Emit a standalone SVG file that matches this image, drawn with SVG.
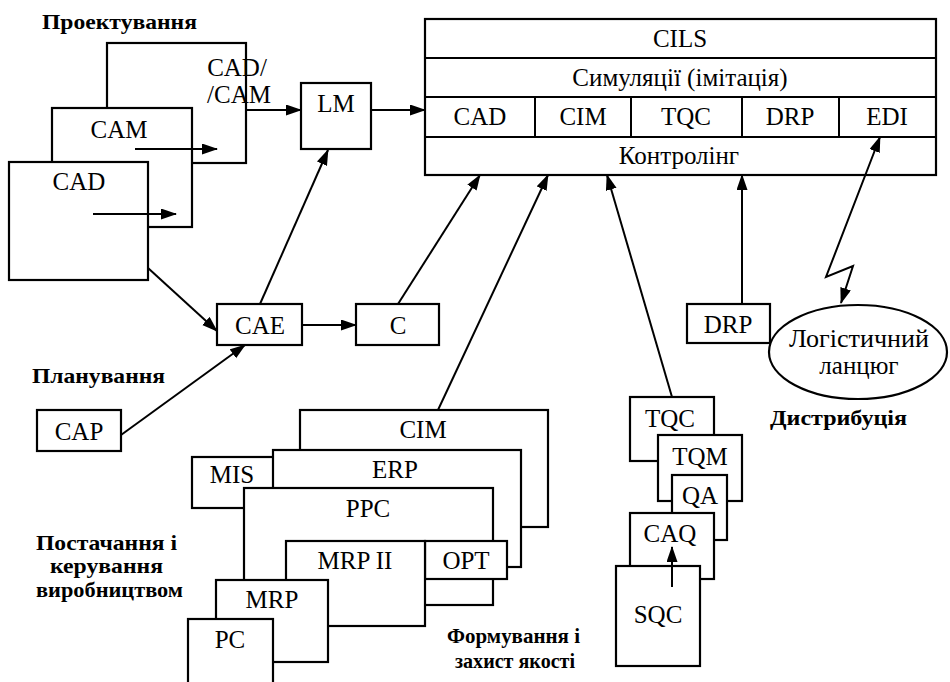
<svg xmlns="http://www.w3.org/2000/svg" width="950" height="682" viewBox="0 0 950 682">
  <defs>
    <style>
      .box { fill: #fff; stroke: #000; stroke-width: 2.2; }
      .t { font-family: "Liberation Serif", "Times New Roman", serif; font-size: 25px; fill: #000; text-anchor: middle; }
      .h { font-family: "Liberation Serif", "Times New Roman", serif; font-size: 22px; font-weight: bold; fill: #000; }
      .c { fill: none; stroke: #000; stroke-width: 2; }
      .a { marker-end: url(#arr); }
    </style>
    <marker id="arr" markerUnits="userSpaceOnUse" markerWidth="16" markerHeight="12" refX="15" refY="5.5" orient="auto-start-reverse">
      <path d="M0,0 L16,5.5 L0,11 z" fill="#000"/>
    </marker>
  </defs>
  <rect width="950" height="682" fill="#fff"/>

  <!-- section headings -->
  <g id="headings" font-family="Liberation Serif, serif">
    <text class="h" x="42" y="29" textLength="155" lengthAdjust="spacingAndGlyphs">Проектування</text>
    <text class="h" x="32" y="383" textLength="133" lengthAdjust="spacingAndGlyphs">Планування</text>
    <text class="h" x="36" y="550" textLength="141" lengthAdjust="spacingAndGlyphs">Постачання і</text>
    <text class="h" x="50" y="573" textLength="113" lengthAdjust="spacingAndGlyphs">керування</text>
    <text class="h" x="36" y="597" textLength="147" lengthAdjust="spacingAndGlyphs">виробництвом</text>
    <text class="h" x="447" y="643" textLength="133" lengthAdjust="spacingAndGlyphs">Формування і</text>
    <text class="h" x="455" y="668" textLength="120" lengthAdjust="spacingAndGlyphs">захист якості</text>
    <text class="h" x="770" y="425" textLength="137" lengthAdjust="spacingAndGlyphs">Дистрибуція</text>
  </g>

  <!-- integrated logistics system -->
  <g id="cils" font-family="Liberation Serif, serif">
    <rect class="box" x="425" y="19" width="511" height="156"/>
    <line class="c" x1="425" y1="58" x2="936" y2="58"/>
    <line class="c" x1="425" y1="97" x2="936" y2="97"/>
    <line class="c" x1="425" y1="137" x2="936" y2="137"/>
    <line class="c" x1="535" y1="97" x2="535" y2="137"/>
    <line class="c" x1="631" y1="97" x2="631" y2="137"/>
    <line class="c" x1="742" y1="97" x2="742" y2="137"/>
    <line class="c" x1="839" y1="97" x2="839" y2="137"/>
    <text class="t" x="680" y="47">CILS</text>
    <text class="t" x="680" y="86">Симуляції (імітація)</text>
    <text class="t" x="480" y="125">CAD</text>
    <text class="t" x="583" y="125">CIM</text>
    <text class="t" x="686" y="125">TQC</text>
    <text class="t" x="790" y="125">DRP</text>
    <text class="t" x="887" y="125">EDI</text>
    <text class="t" x="679" y="164">Контролінг</text>
  </g>

  <!-- design stack -->
  <g id="cadcam">
    <rect class="box" x="107" y="43" width="139" height="120"/>
    <text class="t" x="237" y="76" text-anchor="end">CAD/</text>
    <text class="t" x="239" y="103" text-anchor="end">/CAM</text>
  </g>
  <g id="cam">
    <rect class="box" x="52" y="108" width="140" height="119"/>
    <text class="t" x="119" y="138">CAM</text>
  </g>
  <g id="cad">
    <rect class="box" x="9" y="162" width="139" height="118"/>
    <text class="t" x="79" y="190">CAD</text>
  </g>
  <g id="lm">
    <rect class="box" x="301" y="83" width="70" height="66"/>
    <text class="t" x="336" y="112">LM</text>
  </g>
  <g id="cae">
    <rect class="box" x="217" y="304" width="85" height="41"/>
    <text class="t" x="260" y="334">CAE</text>
  </g>
  <g id="c">
    <rect class="box" x="356" y="304" width="83" height="41"/>
    <text class="t" x="398" y="334">C</text>
  </g>
  <g id="cap">
    <rect class="box" x="37" y="410" width="84" height="41"/>
    <text class="t" x="79" y="440">CAP</text>
  </g>

  <!-- production planning stack -->
  <g id="cim">
    <rect class="box" x="300" y="410" width="248" height="117"/>
    <text class="t" x="423" y="438">CIM</text>
  </g>
  <g id="mis">
    <rect class="box" x="192" y="457" width="90" height="51"/>
    <text class="t" x="232" y="483">MIS</text>
  </g>
  <g id="erp">
    <rect class="box" x="273" y="450" width="248" height="117"/>
    <text class="t" x="395" y="478">ERP</text>
  </g>
  <g id="ppc">
    <rect class="box" x="244" y="488" width="249" height="117"/>
    <text class="t" x="368" y="517">PPC</text>
  </g>
  <g id="opt">
    <rect class="box" x="425" y="541" width="82" height="38"/>
    <text class="t" x="466" y="569">OPT</text>
  </g>
  <g id="mrp2">
    <rect class="box" x="286" y="541" width="139" height="85"/>
    <text class="t" x="355" y="569">MRP II</text>
  </g>
  <g id="mrp">
    <rect class="box" x="216" y="580" width="112" height="82"/>
    <text class="t" x="272" y="608">MRP</text>
  </g>
  <g id="pc">
    <rect class="box" x="188" y="619" width="85" height="80"/>
    <text class="t" x="230" y="648">PC</text>
  </g>

  <!-- quality stack -->
  <g id="tqc">
    <rect class="box" x="630" y="397" width="84" height="64"/>
    <text class="t" x="670" y="427">TQC</text>
  </g>
  <g id="tqm">
    <rect class="box" x="658" y="435" width="84" height="66"/>
    <text class="t" x="700" y="465">TQM</text>
  </g>
  <g id="qa">
    <rect class="box" x="672" y="475" width="55" height="65"/>
    <text class="t" x="700" y="504">QA</text>
  </g>
  <g id="caq">
    <rect class="box" x="630" y="513" width="84" height="66"/>
    <text class="t" x="670" y="542">CAQ</text>
  </g>
  <g id="sqc">
    <rect class="box" x="616" y="566" width="84" height="100"/>
    <text class="t" x="658" y="623">SQC</text>
  </g>

  <!-- distribution -->
  <g id="drp">
    <rect class="box" x="687" y="304" width="83" height="39"/>
    <text class="t" x="728" y="333">DRP</text>
  </g>
  <g id="chain">
    <ellipse class="box" cx="858" cy="352" rx="89" ry="47"/>
    <text class="t" x="859" y="347" textLength="140" lengthAdjust="spacingAndGlyphs">Логістичний</text>
    <text class="t" x="859" y="374">ланцюг</text>
  </g>

  <!-- connectors -->
  <g id="connectors">
    <line class="c a" x1="246" y1="110" x2="301" y2="110"/>
    <line class="c a" x1="371" y1="110" x2="425" y2="110"/>
    <line class="c a" x1="135" y1="149" x2="217" y2="149"/>
    <line class="c a" x1="93" y1="214" x2="176" y2="214"/>
    <line class="c a" x1="148" y1="268" x2="217" y2="331"/>
    <line class="c a" x1="121" y1="435" x2="245" y2="345"/>
    <line class="c a" x1="260" y1="304" x2="328" y2="150"/>
    <line class="c a" x1="302" y1="325" x2="356" y2="325"/>
    <line class="c a" x1="398" y1="304" x2="480" y2="175"/>
    <line class="c a" x1="438" y1="410" x2="548" y2="175"/>
    <line class="c a" x1="672" y1="397" x2="607" y2="175"/>
    <line class="c a" x1="742" y1="304" x2="742" y2="175"/>
    <line class="c a" x1="672" y1="587" x2="672" y2="547"/>
    <polyline class="c a" points="880,137 826,277 853,266 841,303" style="marker-start: url(#arr)"/>
  </g>
</svg>
